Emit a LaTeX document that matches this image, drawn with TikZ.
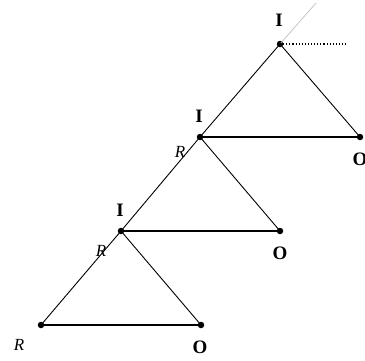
\documentclass[tikz,border=0pt]{standalone}
\usepackage{fontspec}
\setmainfont{Liberation Serif}
\begin{document}
\begin{tikzpicture}[x=1pt,y=-1pt,
  dot/.style={circle,fill=black,inner sep=0pt,minimum size=6.5pt},
  lab/.style={font=\fontsize{19}{19}\selectfont\bfseries,inner sep=0pt},
  rlab/.style={font=\fontsize{17}{17}\selectfont\itshape,inner sep=0pt},
  edge/.style={line width=0.9pt},
  base/.style={line width=1.2pt}]
\useasboundingbox (0,0) rectangle (365,360);
\node[dot] (i1) at (280,44) {};
\node[dot] (i2) at (200,137) {};
\node[dot] (i3) at (121,231) {};
\node[dot] (o1) at (360,137) {};
\node[dot] (o2) at (280,231) {};
\node[dot] (o3) at (201,325) {};
\node[dot] (r) at (41,325) {};
\coordinate (d) at (348,44);
\coordinate (g) at (316,3);
\node[lab] at (279,20) {I};
\node[lab] at (199,116) {I};
\node[lab] at (120,210) {I};
\node[lab] at (360,159) {O};
\node[lab] at (280,253) {O};
\node[lab] at (200,347) {O};
\node[rlab] at (180,152) {R};
\node[rlab] at (101,251) {R};
\node[rlab] at (19,345) {R};
\draw[gray!50,line width=0.7pt] (i1.center) -- (g);
\draw[dotted,line width=1.1pt] (i1.center) -- (d);
\draw[edge] (r.center) -- (i3.center) -- (i2.center) -- (i1.center);
\draw[edge] (i1.center) -- (o1.center);
\draw[edge] (i2.center) -- (o2.center);
\draw[edge] (i3.center) -- (o3.center);
\draw[base] (i2.center) -- (o1.center);
\draw[base] (i3.center) -- (o2.center);
\draw[base] (r.center) -- (o3.center);
\end{tikzpicture}
\end{document}
